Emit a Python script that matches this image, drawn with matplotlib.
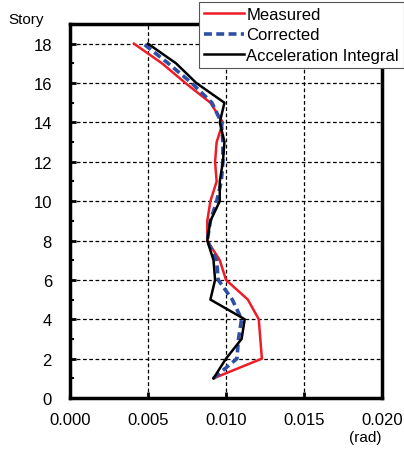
import numpy as np
import matplotlib
matplotlib.use("Agg")
import matplotlib.pyplot as plt
from matplotlib.ticker import MultipleLocator

plt.rcParams['font.family'] = ['Liberation Sans', 'DejaVu Sans']

# story drift angle per story (rad)
story = [1, 2, 3, 4, 5, 6, 7, 8, 9, 10, 11, 12, 13, 14, 15, 16, 17, 18]
measured = [0.0092, 0.0123, 0.0122, 0.0121, 0.0114, 0.0100, 0.0096, 0.0088, 0.0088,
            0.0090, 0.0094, 0.0093, 0.0094, 0.0098, 0.0090, 0.0074, 0.0059, 0.0041]
corrected = [0.0092, 0.0107, 0.0108, 0.0110, 0.0104, 0.0095, 0.0094, 0.0088, 0.0090,
             0.0094, 0.0097, 0.0098, 0.0098, 0.0097, 0.0091, 0.0078, 0.0063, 0.0047]
acc_integral = [0.0092, 0.0100, 0.0110, 0.0112, 0.0090, 0.0093, 0.0092, 0.0088, 0.0090,
                0.0096, 0.0096, 0.0098, 0.0099, 0.0096, 0.0099, 0.0081, 0.0068, 0.0050]

fig = plt.figure(figsize=(4.04, 4.52), dpi=100)
ax = fig.add_axes([70 / 404, 1 - 399 / 452, 312 / 404, 374 / 452])

l1, = ax.plot(measured, story, color='#ee1c25', lw=1.8, label='Measured')
l2, = ax.plot(corrected, story, color='#2e4fa3', lw=2.6, ls=(0, (2.2, 1.2)), label='Corrected')
l3, = ax.plot(acc_integral, story, color='black', lw=1.8, label='Acceleration Integral')

ax.set_xlim(0, 0.020)
ax.set_ylim(0, 19)
ax.xaxis.set_major_locator(MultipleLocator(0.005))
ax.yaxis.set_minor_locator(MultipleLocator(1))
ax.set_yticks([0, 2, 4, 6, 8, 10, 12, 14, 16, 18])
ax.xaxis.set_major_formatter(matplotlib.ticker.FormatStrFormatter('%.3f'))

ax.grid(True, which='major', color='black', ls=(0, (3, 2)), lw=0.9)
for s in ax.spines.values():
    s.set_linewidth(2.5)

ax.tick_params(axis='both', which='major', direction='in', length=4, width=2, labelsize=12)
ax.tick_params(axis='x', pad=10)
ax.tick_params(axis='y', pad=13)
ax.tick_params(axis='y', which='minor', direction='in', length=3, width=1.5)
ax.tick_params(top=False, right=False)

fig.text(26 / 404, 1 - 20 / 452, 'Story', fontsize=11, ha='center', va='center')
fig.text(365 / 404, 1 - 438 / 452, '(rad)', fontsize=11, ha='center', va='center')

leg = fig.legend(handles=[l1, l2, l3], loc='upper right', bbox_to_anchor=(1.0, 0.993),
                 fontsize=12, frameon=True, fancybox=False, framealpha=1,
                 edgecolor='#555555', borderpad=0.3, labelspacing=0.32,
                 handlelength=2.4, handletextpad=0.15, borderaxespad=0.0)
leg.get_frame().set_linewidth(0.8)

fig.savefig('out.png', dpi=100)
